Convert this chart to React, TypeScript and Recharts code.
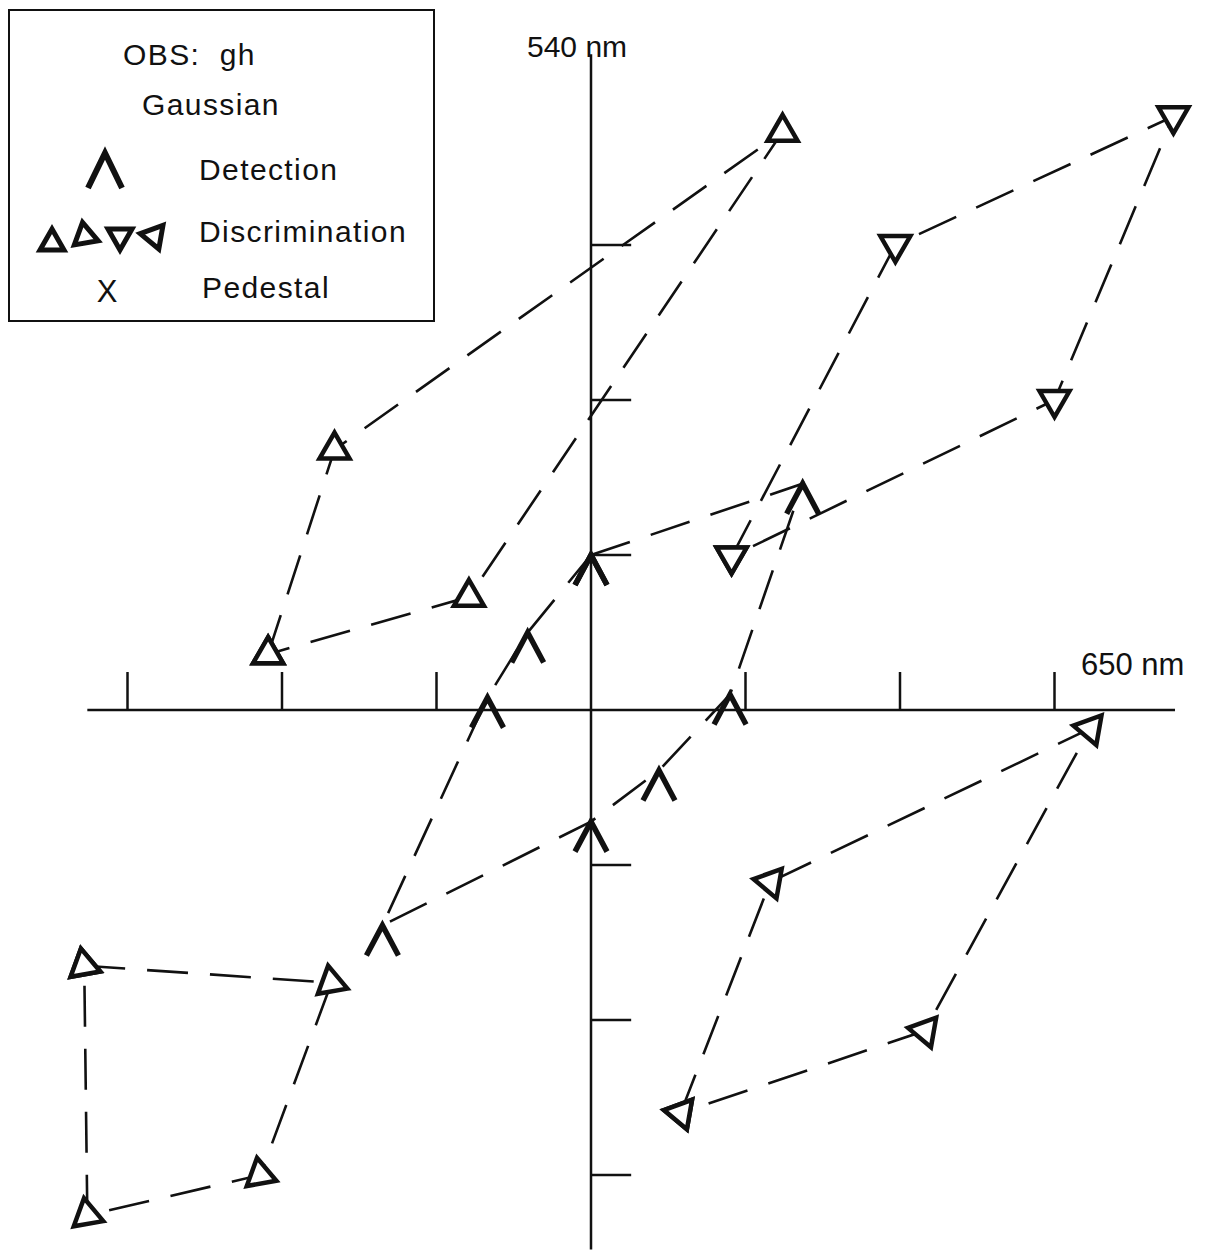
import React from 'react';
import { ScatterChart, Scatter, XAxis, YAxis, ReferenceLine, ReferenceDot } from 'recharts';

// all positions in axis tick units (one tick = one unit), origin = pedestal-free threshold centre
const detection = [
  { x: 0, y: 1.0 },
  { x: 1.37, y: 1.46 },
  { x: 0.9, y: 0.1 },
  { x: 0.44, y: -0.39 },
  { x: 0, y: -0.72 },
  { x: -1.35, y: -1.39 },
  { x: -0.67, y: 0.08 },
  { x: -0.41, y: 0.5 },
];

// discrimination, upward triangles (upper left)
const discUp = [
  { x: -2.09, y: 0.36 },
  { x: -1.66, y: 1.68 },
  { x: 1.24, y: 3.73 },
  { x: -0.79, y: 0.73 },
];

// discrimination, downward triangles (upper right)
const discDown = [
  { x: 0.91, y: 0.99 },
  { x: 1.97, y: 3.0 },
  { x: 3.77, y: 3.83 },
  { x: 3.0, y: 2.0 },
];

// discrimination, left-pointing triangles (lower right)
const discLeft = [
  { x: 0.58, y: -2.6 },
  { x: 1.16, y: -1.11 },
  { x: 3.23, y: -0.12 },
  { x: 2.16, y: -2.07 },
];

// discrimination, right-pointing triangles (lower left)
const discRight = [
  { x: -3.28, y: -1.65 },
  { x: -1.68, y: -1.76 },
  { x: -2.14, y: -3.0 },
  { x: -3.26, y: -3.26 },
];

const xTicks = [-3, -2, -1, 1, 2, 3];
const yTicks = [-3, -2, -1, 1, 2, 3];

const FONT = '"Liberation Sans", Arial, Helvetica, sans-serif';
const INK = '#111';

const closed = (pts: { x: number; y: number }[]) => [...pts, pts[0]];

const dashLine = { stroke: INK, strokeWidth: 2.6, strokeDasharray: '41 22' };

function Lambda(props: any) {
  const { cx, cy } = props;
  if (cx == null || cy == null) return null;
  return (
    <polyline
      points={`${cx - 16},${cy + 30} ${cx},${cy} ${cx + 16},${cy + 30}`}
      fill="none"
      stroke={INK}
      strokeWidth={5.5}
      strokeLinejoin="miter"
    />
  );
}

const tri = (rot: number) =>
  function Tri(props: any) {
    const { cx, cy } = props;
    if (cx == null || cy == null) return null;
    return (
      <polygon
        points="0,-17 15,9 -15,9"
        transform={`translate(${cx},${cy}) rotate(${rot})`}
        fill="#fff"
        stroke={INK}
        strokeWidth={4.5}
        strokeLinejoin="miter"
      />
    );
  };

function Legend() {
  const t = { fontFamily: FONT, fontSize: 30, fill: INK, letterSpacing: 1.4 };
  const lt = (rot: number, x: number, y: number) => (
    <polygon
      points="0,-14 12,7 -12,7"
      transform={`translate(${x},${y}) rotate(${rot})`}
      fill="#fff"
      stroke={INK}
      strokeWidth={5}
    />
  );
  return (
    <svg width={440} height={330} style={{ position: 'absolute', left: 0, top: 0 }}>
      <rect x={9} y={10} width={425} height={311} fill="#fff" stroke={INK} strokeWidth={2} />
      <text x={123} y={65} {...t}>OBS:{'\u00a0'} gh</text>
      <text x={142} y={115} {...t}>Gaussian</text>
      <polyline points="88,188 105,153 122,188" fill="none" stroke={INK} strokeWidth={6} />
      <text x={199} y={180} {...t}>Detection</text>
      {lt(0, 52, 243)}
      {lt(110, 85, 236)}
      {lt(180, 120, 236)}
      {lt(-80, 154, 236)}
      <text x={199} y={242} {...t}>Discrimination</text>
      <text x={107} y={302} {...t} fontSize={31} textAnchor="middle" letterSpacing={0}>X</text>
      <text x={202} y={298} {...t}>Pedestal</text>
    </svg>
  );
}

export default function App() {
  return (
    <div style={{ position: 'absolute', left: 0, top: 0, width: 1210, height: 1255, background: '#fff' }}>
      <ScatterChart width={1210} height={1255} margin={{ top: 12.5, right: 1, bottom: 2.5, left: 3.9 }}>
        <XAxis type="number" dataKey="x" domain={[-3.8, 4.0]} allowDataOverflow hide />
        <YAxis type="number" dataKey="y" domain={[-3.5, 4.5]} allowDataOverflow hide />

        <ReferenceLine segment={[{ x: -3.26, y: 0 }, { x: 3.78, y: 0 }]} stroke={INK} strokeWidth={2.5} />
        <ReferenceLine segment={[{ x: 0, y: 4.23 }, { x: 0, y: -3.48 }]} stroke={INK} strokeWidth={2.5} />
        {xTicks.map((v) => (
          <ReferenceLine key={`xt${v}`} segment={[{ x: v, y: 0 }, { x: v, y: 0.245 }]} stroke={INK} strokeWidth={2.5} />
        ))}
        {yTicks.map((v) => (
          <ReferenceLine key={`yt${v}`} segment={[{ x: 0, y: v }, { x: 0.26, y: v }]} stroke={INK} strokeWidth={2.5} />
        ))}

        <ReferenceDot
          x={0}
          y={4.23}
          r={1}
          shape={(p: any) => (
            <text x={p.cx - 64} y={p.cy + 3} fontFamily={FONT} fontSize={30} fill={INK}>540 nm</text>
          )}
        />
        <ReferenceDot
          x={3.78}
          y={0}
          r={1}
          shape={(p: any) => (
            <text x={p.cx - 94} y={p.cy - 35} fontFamily={FONT} fontSize={31} fill={INK}>650 nm</text>
          )}
        />

        <Scatter data={closed(discUp)} line={dashLine} lineType="joint" shape={tri(0)} isAnimationActive={false} />
        <Scatter data={closed(discDown)} line={dashLine} lineType="joint" shape={tri(180)} isAnimationActive={false} />
        <Scatter data={closed(discLeft)} line={dashLine} lineType="joint" shape={tri(-80)} isAnimationActive={false} />
        <Scatter data={closed(discRight)} line={dashLine} lineType="joint" shape={tri(110)} isAnimationActive={false} />
        <Scatter data={closed(detection)} line={dashLine} lineType="joint" shape={Lambda} isAnimationActive={false} />
      </ScatterChart>
      <Legend />
    </div>
  );
}
